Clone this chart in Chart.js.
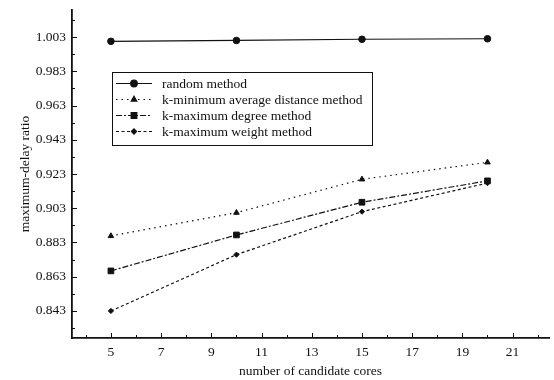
<!DOCTYPE html>
<html>
<head>
<meta charset="utf-8">
<script src="https://cdn.jsdelivr.net/npm/chart.js@4/dist/chart.umd.min.js"></script>
<style>
  html, body { margin: 0; padding: 0; background: #fff; }
  #wrap { width: 554px; height: 380px; }
</style>
</head>
<body>
<div id="wrap"><canvas id="c" width="554" height="380"></canvas></div>
<script>
// Candidate core counts and the maximum-delay ratio of each selection method
const candidateCores = [5, 10, 15, 20];
const randomMethod = [1.0005, 1.0010, 1.0017, 1.0020];
const kMinAvgDistance = [0.8868, 0.9004, 0.9199, 0.9298];
const kMaxDegree = [0.8664, 0.8874, 0.9065, 0.9190];
const kMaxWeight = [0.8430, 0.8759, 0.9010, 0.9177];

const seriesLabels = [
  'random method',
  'k-minimum average distance method',
  'k-maximum degree method',
  'k-maximum weight method'
];

// Axis tick labels
const xTickValues = [5, 7, 9, 11, 13, 15, 17, 19, 21];
const xMinorTicks = [4, 6, 8, 10, 12, 14, 16, 18, 20, 22];
const yTickValues = [0.843, 0.863, 0.883, 0.903, 0.923, 0.943, 0.963, 0.983, 1.003];
const yMinorTicks = [0.833, 0.853, 0.873, 0.893, 0.913, 0.933, 0.953, 0.973, 0.993, 1.013];

const SERIF = "'Liberation Serif', 'Times New Roman', serif";
const INK = '#111';

function pts(values) {
  return values.map((v, i) => ({ x: candidateCores[i], y: v }));
}

const datasets = [
  { label: seriesLabels[0], data: pts(randomMethod), borderDash: [],
    pointStyle: 'circle', pointRadius: 3.3 },
  { label: seriesLabels[1], data: pts(kMinAvgDistance), borderDash: [1.5, 4],
    pointStyle: 'triangle', pointRadius: 3.2 },
  { label: seriesLabels[2], data: pts(kMaxDegree), borderDash: [6, 2, 2, 2],
    pointStyle: 'rect', pointRadius: 4 },
  { label: seriesLabels[3], data: pts(kMaxWeight), borderDash: [3, 2.5],
    pointStyle: 'rectRot', pointRadius: 2.6 }
].map(d => Object.assign({
  borderColor: INK, backgroundColor: INK,
  pointBackgroundColor: INK, pointBorderColor: INK,
  borderWidth: 1.2, pointBorderWidth: 1, tension: 0, fill: false
}, d));

// Inward-pointing major and minor tick marks on both axes
const inwardTicks = {
  id: 'inwardTicks',
  afterDatasetsDraw(chart) {
    const { ctx, chartArea, scales } = chart;
    const xs = scales.x, ys = scales.y;
    ctx.save();
    ctx.strokeStyle = INK;
    ctx.lineWidth = 1;
    ctx.beginPath();
    yTickValues.forEach(v => {
      const p = Math.round(ys.getPixelForValue(v)) + 0.5;
      ctx.moveTo(chartArea.left, p); ctx.lineTo(chartArea.left + 5, p);
    });
    yMinorTicks.forEach(v => {
      const p = Math.round(ys.getPixelForValue(v)) + 0.5;
      if (p < chartArea.top || p > chartArea.bottom) return;
      ctx.moveTo(chartArea.left, p); ctx.lineTo(chartArea.left + 3, p);
    });
    xTickValues.forEach(v => {
      const p = Math.round(xs.getPixelForValue(v)) + 0.5;
      ctx.moveTo(p, chartArea.bottom); ctx.lineTo(p, chartArea.bottom - 5);
    });
    xMinorTicks.forEach(v => {
      const p = Math.round(xs.getPixelForValue(v)) + 0.5;
      if (p < chartArea.left || p > chartArea.right) return;
      ctx.moveTo(p, chartArea.bottom); ctx.lineTo(p, chartArea.bottom - 3);
    });
    ctx.stroke();
    ctx.restore();
  }
};

// Boxed legend inside the plot area
const boxedLegend = {
  id: 'boxedLegend',
  afterDraw(chart) {
    const { ctx } = chart;
    const box = { left: 112, top: 72, right: 372, bottom: 145 };
    ctx.save();
    ctx.fillStyle = '#fff';
    ctx.fillRect(box.left, box.top, box.right - box.left, box.bottom - box.top);
    ctx.strokeStyle = INK;
    ctx.lineWidth = 1;
    ctx.strokeRect(box.left + 0.5, box.top + 0.5, box.right - box.left, box.bottom - box.top);
    ctx.font = "13.5px " + SERIF;
    ctx.textBaseline = 'middle';
    chart.data.datasets.forEach((ds, i) => {
      const y = 83 + i * 16;
      ctx.strokeStyle = INK;
      ctx.lineWidth = ds.borderWidth;
      ctx.setLineDash(ds.borderDash);
      ctx.beginPath();
      ctx.moveTo(116, y + 0.5); ctx.lineTo(152, y + 0.5);
      ctx.stroke();
      ctx.setLineDash([]);
      ctx.fillStyle = INK;
      Chart.helpers.drawPoint(ctx, {
        pointStyle: ds.pointStyle, radius: ds.pointRadius, rotation: 0, borderWidth: 1
      }, 134, y + 0.5);
      ctx.fillStyle = INK;
      ctx.fillText(ds.label, 162, y + 1);
    });
    ctx.restore();
  }
};

new Chart(document.getElementById('c'), {
  type: 'line',
  data: { datasets },
  options: {
    responsive: false,
    animation: false,
    layout: { padding: { top: 10, right: 3, left: 0, bottom: 0 } },
    plugins: { legend: { display: false }, tooltip: { enabled: false } },
    scales: {
      x: {
        type: 'linear',
        min: 3.45, max: 22.45,
        afterBuildTicks(scale) { scale.ticks = xTickValues.map(v => ({ value: v })); },
        afterFit(scale) {
          scale.height = 42;
          scale.paddingLeft = 0; scale.paddingRight = 0;
        },
        grid: { display: true, drawOnChartArea: false, drawTicks: false },
        border: { display: true, color: INK, width: 1.8 },
        ticks: {
          color: INK, padding: 6, autoSkip: false, maxRotation: 0,
          font: { family: SERIF, size: 13.5 },
          callback: v => String(v)
        },
        title: {
          display: true, text: 'number of candidate cores', color: INK,
          font: { family: SERIF, size: 13.5 }, padding: { top: 0, bottom: 0 }
        }
      },
      y: {
        type: 'linear',
        min: 0.8272, max: 1.0188,
        afterBuildTicks(scale) { scale.ticks = yTickValues.map(v => ({ value: v })); },
        afterFit(scale) {
          scale.width = 72;
          scale.paddingTop = 0; scale.paddingBottom = 0;
        },
        grid: { display: true, drawOnChartArea: false, drawTicks: false },
        border: { display: true, color: INK, width: 1.8 },
        ticks: {
          color: INK, padding: 6, autoSkip: false,
          font: { family: SERIF, size: 13.5 },
          callback: v => Number(v).toFixed(3)
        },
        title: {
          display: true, text: 'maximum-delay ratio', color: INK,
          font: { family: SERIF, size: 13.5 }, padding: { top: 17, bottom: 0 }
        }
      }
    }
  },
  plugins: [inwardTicks, boxedLegend]
});
</script>
</body>
</html>
